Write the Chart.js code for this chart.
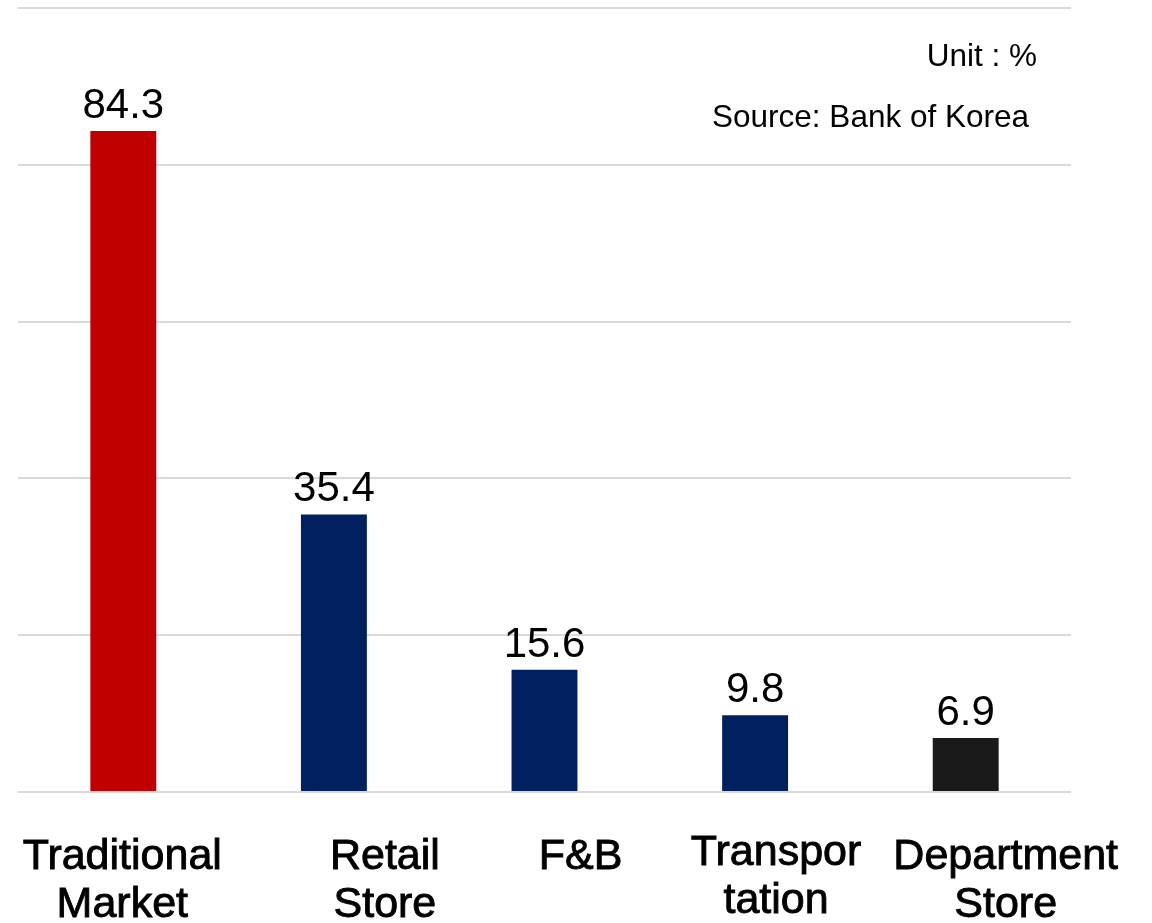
<!DOCTYPE html>
<html>
<head>
<meta charset="utf-8">
<script src="https://cdn.jsdelivr.net/npm/chart.js@4.4.1/dist/chart.umd.min.js"></script>
<style>
  html, body { margin: 0; padding: 0; background: #fff; }
  #wrap { width: 1152px; height: 923px; position: relative; }
</style>
</head>
<body>
<div id="wrap"><canvas id="myChart"></canvas></div>
<script>
// categories (multi-line labels) and values
const categories = [
    ['Traditional', 'Market'],
    ['Retail', 'Store'],
    ['F&B'],
    ['Transpor', 'tation'],
    ['Department', 'Store']
];
const shares = [84.3, 35.4, 15.6, 9.8, 6.9];
const barColors = ['#C00000', '#002060', '#002060', '#002060', '#1a1a1a'];
const yTicks = [0, 20, 40, 60, 80, 100];

const unitNote = 'Unit : %';
const sourceNote = 'Source: Bank of Korea';

// labels under the axis are not centred on the bars in the original
const labelShift = [-1, 51, 36, 21, 40];
const labelLift = [0, 0, 0, -4, 0];

const extraText = {
    id: 'extraText',
    afterDatasetsDraw(chart) {
        const ctx = chart.ctx;
        const x = chart.scales.x;
        const y = chart.scales.y;
        ctx.save();
        ctx.fillStyle = '#000';

        // value labels over the bars
        ctx.font = '42px "Liberation Sans", Arial, sans-serif';
        ctx.textAlign = 'center';
        ctx.textBaseline = 'alphabetic';
        shares.forEach((v, i) => {
            ctx.fillText(v.toFixed(1), x.getPixelForValue(i), y.getPixelForValue(v) - 13);
        });

        // category labels (a thin stroke gives them the heavier look)
        ctx.font = '43px "Liberation Sans", Arial, sans-serif';
        ctx.strokeStyle = '#000';
        ctx.lineWidth = 0.9;
        categories.forEach((lines, i) => {
            const cx = x.getPixelForValue(i) + labelShift[i];
            lines.forEach((line, j) => {
                const ly = chart.chartArea.bottom + 77 + j * 48 + labelLift[i];
                ctx.fillText(line, cx, ly);
                ctx.strokeText(line, cx, ly);
            });
        });

        // notes top right
        ctx.font = '31.5px "Liberation Sans", Arial, sans-serif';
        ctx.textAlign = 'right';
        ctx.fillText(unitNote, 1037, 66);
        ctx.fillText(sourceNote, 1029, 127);
        ctx.restore();
    }
};

const ctx = document.getElementById('myChart').getContext('2d');
window.myChart = new Chart(ctx, {
    type: 'bar',
    data: {
        labels: categories,
        datasets: [{
            data: shares,
            backgroundColor: barColors,
            borderWidth: 0,
            categoryPercentage: 1,
            barPercentage: 0.313
        }]
    },
    options: {
        responsive: true,
        maintainAspectRatio: false,
        animation: false,
        devicePixelRatio: 1,
        layout: { padding: { left: 18, right: 81, top: 8, bottom: 131 } },
        plugins: {
            legend: { display: false },
            tooltip: { enabled: false }
        },
        scales: {
            x: {
                grid: { display: false },
                border: { display: false },
                ticks: { display: false },
                afterFit: s => { s.height = 0; }
            },
            y: {
                min: yTicks[0],
                max: yTicks[yTicks.length - 1],
                afterBuildTicks: s => { s.ticks = yTicks.map(v => ({ value: v })); },
                grid: { color: '#d9d9d9', lineWidth: 2, drawTicks: false },
                border: { display: false },
                ticks: { display: false },
                afterFit: s => { s.width = 0; }
            }
        }
    },
    plugins: [extraText]
});
</script>
</body>
</html>
